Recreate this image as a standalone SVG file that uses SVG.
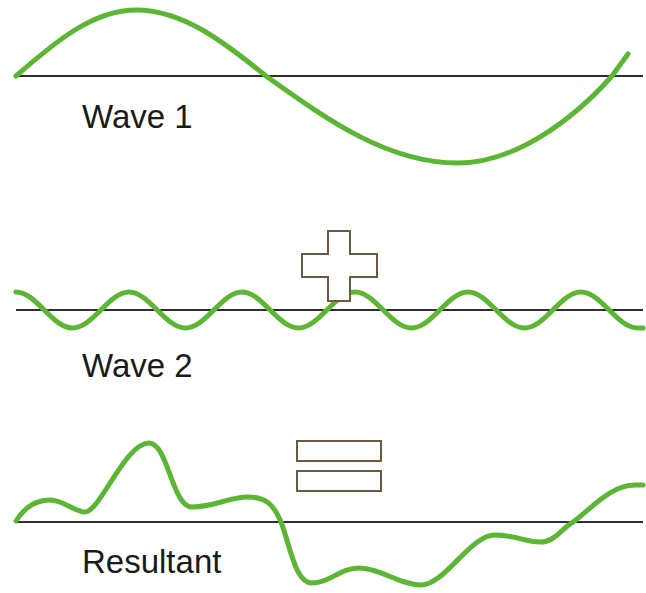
<svg xmlns="http://www.w3.org/2000/svg" width="646" height="593" viewBox="0 0 646 593">
<style>
.axis{stroke:#2e2e2e;stroke-width:2;fill:none}
.wave{stroke:#5db536;stroke-width:5;fill:none;stroke-linecap:round;stroke-linejoin:round}
.sym{fill:#ffffff;stroke:#6b5a40;stroke-width:2}
.lbl{font-family:"Liberation Sans",Arial,sans-serif;font-size:33px;fill:#1a1a1a}
</style>
<rect width="646" height="593" fill="#ffffff"/>
<g id="wave1">
<line class="axis" x1="16" y1="76" x2="643" y2="76"/>
<path class="wave" d="M16,76 C55,42 93,10 136,10 C183,10 224,42 266,76 C329,121 388,163 458,163 C514,163 572,121 612,76 L628,54"/>
<text class="lbl" x="82" y="128">Wave 1</text>
</g>
<g id="wave2">
<line class="axis" x1="16" y1="310" x2="643" y2="310"/>
<path class="wave" d="M16,292 C36.6,292 51.9,328 72.5,328 S108.9,292 129,292 S164.9,328 185.5,328 S221.9,292 242,292 S277.9,328 298.5,328 S334.9,292 355,292 S390.9,328 411.5,328 S447.9,292 468,292 S503.9,328 524.5,328 S560.9,292 581,292 S616.9,328 637.5,328 L643,328"/>
<text class="lbl" x="82" y="377">Wave 2</text>
</g>
<g id="plus">
<path class="sym" d="M328,231 H350 V254 H377 V277 H350 V301 H328 V277 H302 V254 H328 Z"/>
</g>
<g id="resultant">
<line class="axis" x1="16" y1="522" x2="643" y2="522"/>
<path class="wave" d="M16,521 C26,505 38,500 50,500 C64,500 74,512 85,512 C100,512 125,443 149,443 C168,443 172,507 192,507 C215,507 228,497 248,497 C266,497 274,505 281,522 C290,545 295,583 312,583 C330,583 340,568 359,568 C380,568 400,585 421,585 C445,585 470,535 495,535 C515,535 525,542 540,542 C555,542 560,530 573,522 C590,510 610,485 635,485 L643,485"/>
<text class="lbl" x="82" y="573">Resultant</text>
</g>
<g id="equals">
<rect class="sym" x="297" y="441" width="84" height="20"/>
<rect class="sym" x="297" y="471" width="84" height="20"/>
</g>
</svg>
